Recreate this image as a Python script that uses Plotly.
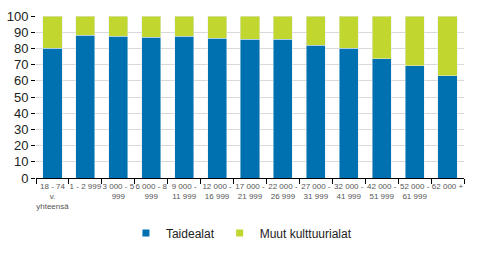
import plotly.graph_objects as go

categories = ["18 - 74<br>v.<br>yhteensä", "1 - 2 999", "3 000 - 5<br>999", "6 000 - 8<br>999",
              "9 000 -<br>11 999", "12 000 -<br>16 999", "17 000 -<br>21 999", "22 000 -<br>26 999",
              "27 000 -<br>31 999", "32 000 -<br>41 999", "42 000 -<br>51 999", "52 000 -<br>61 999",
              "62 000 +"]
taidealat = [80, 88, 87.5, 87, 87.5, 86.3, 85.7, 85.5, 82, 80, 73.6, 69.4, 63]
muut = [20, 12, 12.5, 13, 12.5, 13.7, 14.3, 14.5, 18, 20, 26.4, 30.6, 37]
y_ticks = list(range(0, 101, 10))

BLUE = "#0071B0"
GREEN = "#C1D72F"
FONT = "Liberation Sans, Arial, sans-serif"

fig = go.Figure()
fig.add_trace(go.Bar(x=categories, y=taidealat, marker_color=BLUE, name="Taidealat", showlegend=False))
fig.add_trace(go.Bar(x=categories, y=muut, marker_color=GREEN, name="Muut kulttuurialat", showlegend=False))
for nm, col in [("Taidealat", BLUE), ("Muut kulttuurialat", GREEN)]:
    fig.add_trace(go.Scatter(x=[None], y=[None], mode="markers", name=nm,
                             marker=dict(symbol="square", size=7, color=col)))

fig.update_layout(
    barmode="stack",
    bargap=0.42,
    width=483, height=260,
    margin=dict(l=36, r=19, t=16, b=76),
    paper_bgcolor="white", plot_bgcolor="white",
    font=dict(family=FONT, color="#222"),
    legend=dict(orientation="h", x=0.48, xanchor="center", y=-0.34, yanchor="middle",
                font=dict(size=12, color="#222"), itemwidth=30, traceorder="normal"),
)
fig.update_xaxes(
    type="category", tickson="boundaries", ticks="outside", ticklen=5, tickcolor="black",
    showline=True, linecolor="black", linewidth=1, tickangle=0, automargin=False,
    tickfont=dict(size=8, color="#555", family=FONT), showgrid=False,
)
fig.update_yaxes(
    range=[0, 100], tickvals=y_ticks, ticks="outside", ticklen=4, tickcolor="black",
    showgrid=True, gridcolor="#D9D9D9", gridwidth=1, zeroline=False, showline=False,
    automargin=False,
    tickfont=dict(size=13, color="#222", family=FONT),
)
fig.write_html("out.html")
